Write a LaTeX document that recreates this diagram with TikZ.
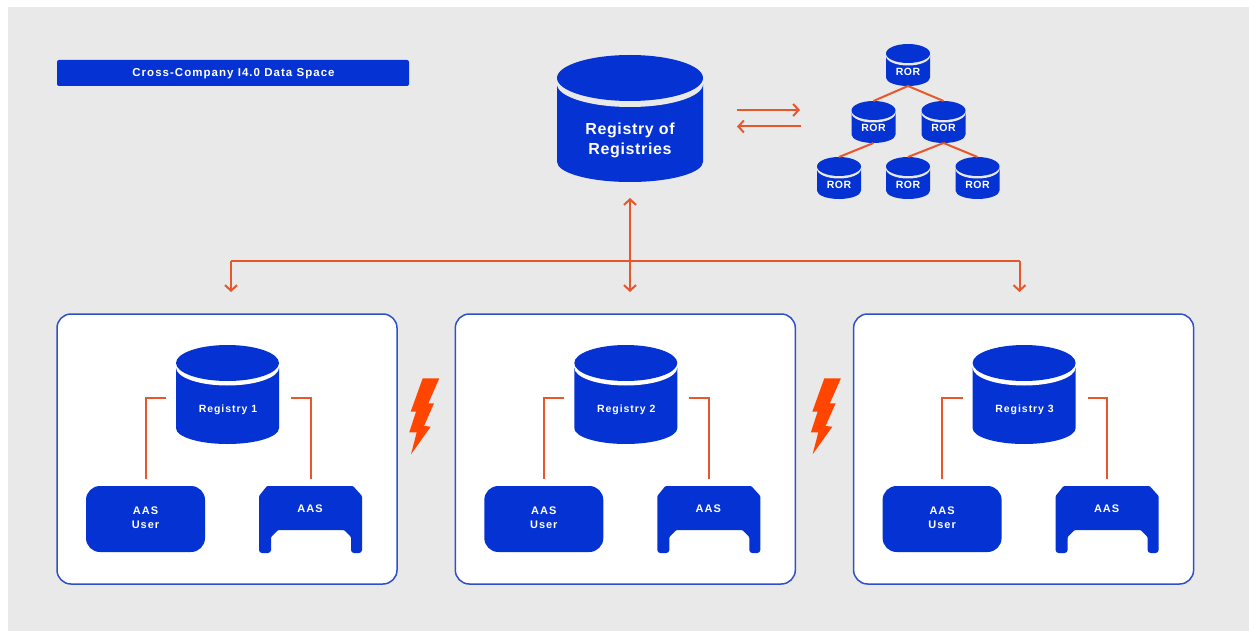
\documentclass[tikz,border=0pt]{standalone}
\usepackage{fontspec}
\setmainfont{Liberation Sans}[BoldFont=* Bold]
\newfontfamily\spaced{Liberation Sans Bold}[LetterSpace=9]
\newfontfamily\spacedw{Liberation Sans Bold}[LetterSpace=4]
\usetikzlibrary{arrows.meta}
\definecolor{iblue}{HTML}{0532D2}
\definecolor{ibg}{HTML}{E9E9E9}
\definecolor{iline}{HTML}{E8562C}
\definecolor{ibolt}{HTML}{FF4500}
\definecolor{iedge}{HTML}{2E50C8}
\tikzset{
  x=1pt,y=-1pt,
  wire/.style={draw=iline,line width=2pt},
  dbl/.style={wire,{Straight Barb[length=5.5pt,width=12pt,line width=2pt]}-{Straight Barb[length=5.5pt,width=12pt,line width=2pt]}},
  tip/.style={wire,-{Straight Barb[length=5.5pt,width=12pt,line width=2pt]}},
  box/.style={inner sep=0pt,outer sep=0pt,draw=none},
  lbl/.style={text=white,align=center,inner sep=0pt},
  panel/.style={draw=iedge,fill=white,line width=1.5pt,rounded corners=14pt},
  bolt/.style={fill=ibolt,draw=none},
}
% name, cx, top, bottom, rx, ry, gap, gap colour
\newcommand{\cyl}[8]{%
  \pgfmathsetmacro{\cya}{#3+#6}
  \pgfmathsetmacro{\cyb}{#3+#6+#7}
  \pgfmathsetmacro{\ryb}{#6*0.88}
  \pgfmathsetmacro{\cyc}{#4-\ryb}
  \pgfmathsetmacro{\xl}{#2-#5}
  \pgfmathsetmacro{\xr}{#2+#5}
  \fill[iblue] (\xl,\cyb) -- (\xl,\cyc) arc[start angle=180,end angle=360,x radius=#5pt,y radius=\ryb pt] -- (\xr,\cyb) -- cycle;
  \fill[#8] (#2,\cyb) ellipse[x radius=#5pt,y radius=#6pt];
  \fill[iblue] (#2,\cya) ellipse[x radius=#5pt,y radius=#6pt];
  \pgfmathsetmacro{\cmid}{(#3+#4)/2}
  \node[box,minimum width=2*#5 pt,minimum height=#4pt-#3pt] (#1) at (#2,\cmid) {};
}
% panel group: index, x offset
\newcommand{\group}[2]{%
  \begin{scope}[shift={(#2,0)}]
    \path[panel] (57,314) rectangle (397,584);
    \cyl{reg#1}{227.5}{345}{444}{51.5}{18}{4.5}{white}
    \node[lbl,font=\spaced\fontsize{10.5}{13}\selectfont] (regt#1) at (228,409.5) {Registry #1};
    \node[box,fill=iblue,rounded corners=14pt,minimum width=119pt,minimum height=66pt] (user#1) at (145.5,519) {};
    \node[lbl,font=\spaced\fontsize{11}{14}\selectfont] (usert#1) at (145.5,518) {AAS\\User};
    \fill[iblue,rounded corners=1pt] (267,486) -- (353,486) -- (362,496) [rounded corners=3pt] -- (362,553) -- (351,553) [rounded corners=1pt] -- (351,537) -- (344,530) -- (278,530) -- (271,537) [rounded corners=3pt] -- (271,553) -- (259,553) [rounded corners=1pt] -- (259,496) -- cycle;
    \node[box,minimum width=103pt,minimum height=67pt] (aas#1) at (310.5,519.5) {};
    \node[lbl,font=\spaced\fontsize{11}{14}\selectfont] (aast#1) at (310,509) {AAS};
    \draw[wire] ([shift={(-10,3.5)}]reg#1.west) -| ([shift={(0,-7)}]user#1.north);
    \draw[wire] ([shift={(12,3.5)}]reg#1.east) -| ([shift={(0,-7)}]aas#1.north);
  \end{scope}
}
\newcommand{\boltshape}[1]{%
  \begin{scope}[shift={(#1,0)}]
    \fill[bolt] (422.7,378.3) -- (439.3,378.3) -- (428.3,403.3) -- (434,403.3) -- (424,426) -- (430.7,426.7) -- (411,454.3) -- (416.7,432.3) -- (409.3,432.3) -- (416,411.7) -- (410.7,411.7) -- cycle;
  \end{scope}
}
\begin{document}
\begin{tikzpicture}
\path[use as bounding box,fill=white] (0,0) rectangle (1249,631);
\fill[ibg] (8,7) rectangle (1249,631);

% title
\node[box,fill=iblue,rounded corners=2pt,minimum width=352pt,minimum height=26pt] (title) at (233,73) {};
\node[lbl,font=\spaced\fontsize{11.5}{12}\selectfont] (titlet) at (233.5,73.5) {Cross-Company I4.0 Data Space};

% registry of registries
\cyl{ror}{630}{55}{182}{73}{23}{6}{ibg}
\node[lbl,font=\spacedw\fontsize{16}{20}\selectfont] (rort) at (630,140) {Registry of\\Registries};

% ROR tree
\cyl{ra}{908}{44}{86}{22}{9.5}{2.5}{ibg}
\cyl{rb}{873.5}{101}{143}{22}{9.5}{2.5}{ibg}
\cyl{rc}{943.5}{101}{143}{22}{9.5}{2.5}{ibg}
\cyl{rd}{839}{157}{199}{22}{9.5}{2.5}{ibg}
\cyl{re}{908}{157}{199}{22}{9.5}{2.5}{ibg}
\cyl{rf}{977.5}{157}{199}{22}{9.5}{2.5}{ibg}
\foreach \n/\px/\py in {ra/908/72,rb/873.5/128,rc/943.5/128,rd/839/185,re/908/185,rf/977.5/185}
  \node[lbl,font=\spacedw\fontsize{10.5}{12}\selectfont] (\n t) at (\px,\py) {ROR};
\draw[wire] (ra.south) -- (rb.north);
\draw[wire] (ra.south) -- (rc.north);
\draw[wire] (rb.south) -- (rd.north);
\draw[wire] (rc.south) -- (re.north);
\draw[wire] (rc.south) -- (rf.north);

% exchange arrows
\coordinate (exa) at (737,110);
\coordinate (exb) at (800,110);
\coordinate (exc) at (801,126.5);
\coordinate (exd) at (737,126.5);
\draw[tip] (exa) -- (exb);
\draw[tip] (exc) -- (exd);

% panels
\group{1}{0}
\group{2}{398.3}
\group{3}{796.6}
\boltshape{0}
\boltshape{401.6}

% bus
\coordinate (busl) at (231,261);
\coordinate (busr) at (1019.5,261);
\coordinate (top) at (630,198);
\coordinate (dl) at (231,292);
\coordinate (dm) at (630,292);
\coordinate (dr) at (1019.5,292);
\draw[dbl] (top) -- (dm);
\draw[tip] (busl) -- (dl);
\draw[tip] (busr) -- (dr);
\draw[wire] (busl) -- (busr);
\end{tikzpicture}
\end{document}
